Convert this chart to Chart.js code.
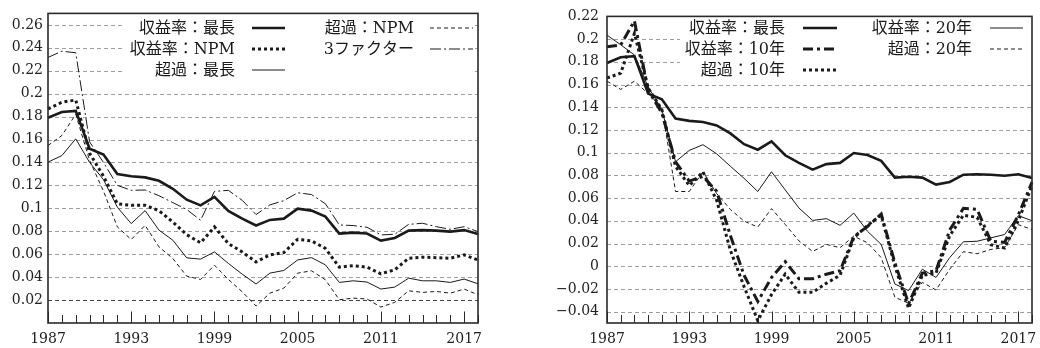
<!DOCTYPE html>
<html><head><meta charset="utf-8">
<script src="https://cdn.jsdelivr.net/npm/chart.js@4.4.1/dist/chart.umd.min.js"></script>
<style>
html,body{margin:0;padding:0;background:#fff;}
#wrap{position:relative;width:1040px;height:348px;}
.c{position:absolute;top:0;width:520px;height:348px;}
</style></head><body>
<div id="wrap">
<div class="c" style="left:0"><canvas id="c1" width="520" height="348"></canvas></div>
<div class="c" style="left:520px"><canvas id="c2" width="520" height="348"></canvas></div>
</div>
<script>
// ---------------- data ----------------
const years = ['1987','1988','1989','1990','1991','1992','1993','1994','1995','1996','1997','1998','1999','2000','2001','2002',
               '2003','2004','2005','2006','2007','2008','2009','2010','2011','2012','2013','2014','2015','2016','2017','2018'];
const xTickLabels = ['1987','1993','1999','2005','2011','2017'];
const leftYTicks = [0.02,0.04,0.06,0.08,0.10,0.12,0.14,0.16,0.18,0.20,0.22,0.24,0.26];
const rightYTicks = [-0.04,-0.02,0,0.02,0.04,0.06,0.08,0.10,0.12,0.14,0.16,0.18,0.20,0.22];

// left panel
const retLongest = [0.179,0.184,0.185,0.152,0.147,0.130,0.128,0.127,0.124,0.117,0.1075,0.1026,0.110,0.0977,0.091,0.085,
                    0.0899,0.091,0.0997,0.098,0.0928,0.078,0.0788,0.078,0.0719,0.0742,0.0806,0.081,0.0806,0.0797,0.081,0.0777];
const retNPM = [0.1867,0.1925,0.1945,0.148,0.128,0.104,0.1026,0.1026,0.098,0.088,0.077,0.070,0.0838,0.0693,0.062,0.0533,
                0.0594,0.0614,0.073,0.0716,0.065,0.0487,0.050,0.0487,0.0429,0.0464,0.0565,0.0574,0.057,0.0565,0.0594,0.055];
const excLongest = [0.1403,0.146,0.1606,0.140,0.125,0.101,0.0867,0.098,0.081,0.0722,0.0568,0.0557,0.062,0.052,0.0426,0.034,
                    0.0435,0.0458,0.055,0.057,0.0507,0.0354,0.0368,0.0357,0.0296,0.0313,0.0391,0.0368,0.0368,0.0354,0.0383,0.0342];
const excNPM = [0.1548,0.1635,0.182,0.1417,0.115,0.0838,0.0728,0.0852,0.0664,0.0562,0.0409,0.038,0.0504,0.038,0.0272,0.0148,
                0.026,0.0304,0.0435,0.0455,0.0377,0.0203,0.0217,0.0209,0.0139,0.018,0.0281,0.0267,0.0275,0.026,0.0296,0.0246];
const threeFactor = [0.2316,0.237,0.2357,0.158,0.14,0.12,0.1157,0.116,0.111,0.105,0.099,0.0896,0.1148,0.1157,0.107,0.0946,
                     0.103,0.1067,0.1136,0.112,0.104,0.0855,0.085,0.0835,0.0768,0.0774,0.086,0.087,0.084,0.0817,0.084,0.0797];

// right panel
const ret10 = [0.1933,0.1948,0.216,0.155,0.135,0.092,0.075,0.079,0.066,0.027,-0.008,-0.031,-0.010,0.004,-0.011,-0.011,
               -0.007,-0.004,0.026,0.035,0.046,0.003,-0.033,-0.006,-0.004,0.032,0.051,0.050,0.022,0.021,0.045,0.074];
const exc10 = [0.1658,0.170,0.205,0.157,0.138,0.088,0.071,0.083,0.058,0.014,-0.018,-0.048,-0.025,-0.007,-0.023,-0.023,
               -0.015,-0.008,0.025,0.036,0.045,0.000,-0.037,-0.008,-0.006,0.027,0.045,0.043,0.019,0.016,0.040,0.071];
const ret20 = [0.2035,0.195,0.186,0.158,0.138,0.092,0.102,0.107,0.099,0.088,0.0774,0.0658,0.0832,0.0672,0.0513,0.0403,
               0.0419,0.036,0.0468,0.0308,0.0192,-0.0157,-0.0215,-0.0026,-0.0099,0.0076,0.0215,0.022,0.025,0.0279,0.0445,0.0401];
const exc20 = [0.163,0.1557,0.163,0.152,0.14,0.0658,0.0658,0.0832,0.064,0.050,0.0397,0.0345,0.0507,0.0368,0.0223,0.013,
               0.0192,0.0163,0.0265,0.0206,0.0076,-0.0273,-0.0326,-0.0142,-0.0209,-0.0026,0.0128,0.011,0.0148,0.0163,0.0366,0.0323];

const leftNames = ['収益率：最長','収益率：NPM','超過：最長','超過：NPM','3ファクター'];
const rightNames = ['収益率：最長','収益率：10年','超過：10年','収益率：20年','超過：20年'];

// ---------------- styles ----------------
const INK = '#1a1a1a';
const ST = {
  thickSolid:   {w:2.6, d:[]},
  thickDot:     {w:3,   d:[3,3]},
  thinSolid:    {w:1,   d:[]},
  thinDash:     {w:1,   d:[4,3]},
  thinDashDot:  {w:1,   d:[11,3,2,3]},
  thickDashDot: {w:3,   d:[10,4,3,4]}
};
const SERIF = "'DejaVu Serif', 'Liberation Serif', serif";
const LEGEND_FONT = "16px 'DejaVu Serif', 'Noto Sans CJK JP', sans-serif";

function ds(label, data, st){
  return {label, data, borderColor: INK, borderWidth: st.w, borderDash: st.d,
          pointRadius: 0, tension: 0, fill: false, borderCapStyle: 'butt', borderJoinStyle: 'miter', _st: st};
}

function fmt(v){
  const r = Math.round(v*100)/100;
  if (Math.abs(r) < 1e-9) return '0';
  const s = String(Math.abs(r));
  return (r < 0 ? '\u2212' : '') + s;
}

const decoPlugin = {
  id: 'deco',
  beforeDatasetsDraw(chart){
    const o = chart.options.plugins.deco;
    const ctx = chart.ctx;
    const a = chart.chartArea;
    const ys = chart.scales.y;
    ctx.save();
    // dashed horizontal grid lines
    ctx.lineWidth = 1;
    ctx.setLineDash([4,3]);
    ys.ticks.forEach(t => {
      const py = Math.round(ys.getPixelForValue(t.value)) + 0.5;
      const dark = o.darkTick !== undefined && Math.abs(t.value - o.darkTick) < 1e-6;
      ctx.strokeStyle = dark ? '#444' : '#9e9e9e';
      ctx.beginPath();
      ctx.moveTo(a.left, py); ctx.lineTo(a.right, py);
      ctx.stroke();
    });
    ctx.setLineDash([]);
    // legend panel
    ctx.fillStyle = '#fff';
    ctx.fillRect(o.box[0], o.box[1], o.box[2]-o.box[0], o.box[3]-o.box[1]);
    ctx.font = LEGEND_FONT;
    ctx.textAlign = 'right';
    ctx.textBaseline = 'middle';
    ctx.fillStyle = INK;
    o.items.forEach(it => {
      const d = chart.data.datasets[it.ds];
      const col = o.cols[it.col];
      const y = o.rows[it.row];
      ctx.fillText(d.label, col.tx, y + 1);
      ctx.beginPath();
      ctx.lineWidth = d._st.w;
      ctx.setLineDash(d._st.d);
      ctx.strokeStyle = INK;
      ctx.moveTo(col.s0, y); ctx.lineTo(col.s1, y);
      ctx.stroke();
      ctx.setLineDash([]);
    });
    ctx.restore();
  },
  afterDatasetsDraw(chart){
    const ctx = chart.ctx;
    const a = chart.chartArea;
    const xs = chart.scales.x;
    ctx.save();
    ctx.strokeStyle = '#2a2a2a';
    ctx.lineWidth = 1;
    ctx.setLineDash([]);
    xs.ticks.forEach((t, i) => {
      const lab = xs.getLabelForValue(t.value);
      const len = xTickLabels.includes(lab) ? 11.5 : 8;
      const px = Math.round(xs.getPixelForTick(i)) + 0.5;
      ctx.beginPath();
      ctx.moveTo(px, a.bottom);
      ctx.lineTo(px, a.bottom - len);
      ctx.stroke();
    });
    ctx.lineWidth = 1.6;
    ctx.strokeStyle = '#2a2a2a';
    ctx.strokeRect(a.left, a.top, a.right - a.left, a.bottom - a.top);
    ctx.restore();
  }
};

function makeOptions(cfg){
  return {
    responsive: false,
    animation: false,
    layout: {padding: {top: 13, right: cfg.padRight, left: 0, bottom: 0}},
    plugins: {
      legend: {display: false},
      tooltip: {enabled: false},
      deco: cfg.deco
    },
    scales: {
      x: {
        type: 'category',
        offset: false,
        grid: {display: false, drawTicks: false},
        border: {display: false},
        afterFit: s => { s.height = 25; },
        ticks: {
          autoSkip: false, maxRotation: 0, minRotation: 0, padding: 8,
          color: '#222', font: {family: SERIF, size: 14},
          callback: function(v){ const l = this.getLabelForValue(v); return xTickLabels.includes(l) ? l : ''; }
        }
      },
      y: {
        min: cfg.min, max: cfg.max,
        afterBuildTicks: s => { s.ticks = cfg.ticks.map(v => ({value: v})); },
        afterFit: s => { s.width = cfg.yWidth; },
        grid: {display: false, drawTicks: false},
        border: {display: false},
        ticks: {padding: cfg.yPad, color: '#222', font: {family: SERIF, size: 14}, callback: v => fmt(v)}
      }
    }
  };
}

new Chart(document.getElementById('c1'), {
  type: 'line',
  data: {
    labels: years,
    datasets: [
      ds(leftNames[0], retLongest, ST.thickSolid),
      ds(leftNames[1], retNPM, ST.thickDot),
      ds(leftNames[2], excLongest, ST.thinSolid),
      ds(leftNames[3], excNPM, ST.thinDash),
      ds(leftNames[4], threeFactor, ST.thinDashDot)
    ]
  },
  options: makeOptions({
    padRight: 42, min: 0, max: 0.27, ticks: leftYTicks, yWidth: 48, yPad: 5,
    deco: {
      darkTick: 0.02,
      box: [125, 14, 474, 79],
      rows: [28, 49, 70],
      cols: [{tx: 235, s0: 252, s1: 285}, {tx: 414, s0: 430, s1: 473}],
      items: [{ds:0,col:0,row:0},{ds:1,col:0,row:1},{ds:2,col:0,row:2},{ds:3,col:1,row:0},{ds:4,col:1,row:1}]
    }
  }),
  plugins: [decoPlugin]
});

new Chart(document.getElementById('c2'), {
  type: 'line',
  data: {
    labels: years,
    datasets: [
      ds(rightNames[0], retLongest, ST.thickSolid),
      ds(rightNames[1], ret10, ST.thickDashDot),
      ds(rightNames[2], exc10, ST.thickDot),
      ds(rightNames[3], ret20, ST.thinSolid),
      ds(rightNames[4], exc20, ST.thinDash)
    ]
  },
  options: makeOptions({
    padRight: 2, min: -0.05, max: 0.22, ticks: rightYTicks, yWidth: 87, yPad: 8,
    deco: {
      box: [160, 14, 511, 79],
      rows: [28, 49, 70],
      cols: [{tx: 265, s0: 283, s1: 317}, {tx: 452, s0: 470, s1: 503}],
      items: [{ds:0,col:0,row:0},{ds:1,col:0,row:1},{ds:2,col:0,row:2},{ds:3,col:1,row:0},{ds:4,col:1,row:1}]
    }
  }),
  plugins: [decoPlugin]
});
</script>
</body></html>
